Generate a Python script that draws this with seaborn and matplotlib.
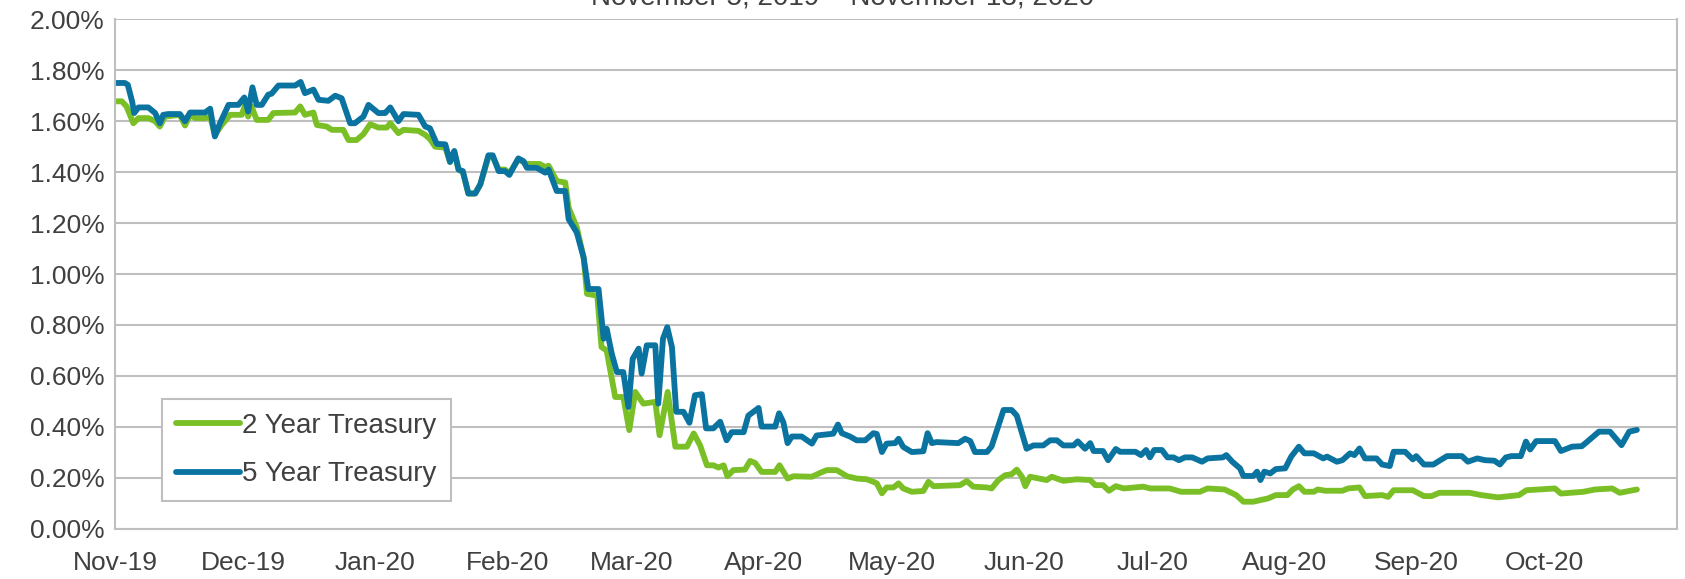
#!/usr/bin/env python3
"""2 year vs 5 year Treasury yields, Nov 2019 - Oct 2020."""
import matplotlib
matplotlib.use("Agg")
import matplotlib.pyplot as plt
import matplotlib.ticker as mticker
import numpy as np
import pandas as pd
import seaborn as sns

START = pd.Timestamp("2019-11-05")
TITLE = "November 5, 2019 \u2013 November 13, 2020"

# days after START
days_2y = [0, 1.6, 2.7, 4.3, 5.5, 7.8, 9.4, 10.5, 11.7, 15.2, 16.4, 17.6, 18.8, 21.1,
           22.3, 23.4, 25.0, 27.0, 29.7, 30.5, 31.2, 32.0, 33.2, 35.9, 37.1, 42.2,
           43.4, 44.5, 46.5, 47.3, 49.6, 50.8, 53.5, 54.7, 56.6, 58.2, 59.8, 61.7,
           63.7, 64.5, 66.4, 67.6, 71.1, 72.7, 73.8, 75.0, 77.4, 78.5, 79.5, 80.5,
           81.5, 82.8, 84.4, 85.6, 87.5, 88.5, 89.9, 91.4, 92.4, 94.5, 96.5, 99.5,
           100.8, 101.6, 103.5, 105.5, 106.3, 108.2, 109.8, 110.6, 113.0, 114.0,
           115.2, 117.2, 119.1, 120.5, 121.9, 123.8, 126.6, 127.6, 129.5, 131.3,
           134.0, 135.6, 137.1, 138.7, 140.2, 141.4, 142.6, 143.5, 144.9, 147.6,
           148.8, 150.0, 151.5, 154.7, 155.7, 157.6, 159.0, 163.3, 165.2, 166.8,
           169.1, 171.5, 173.8, 176.2, 177.7, 178.5, 179.7, 180.8, 182.4, 183.6,
           184.7, 186.7, 189.4, 190.6, 191.8, 198.0, 199.6, 201.1, 204.3, 205.4,
           207.0, 208.6, 210.1, 211.3, 212.5, 213.3, 214.4, 218.3, 219.5, 222.2,
           225.4, 228.5, 229.7, 231.5, 232.9, 234.5, 236.4, 240.9, 242.6, 247.1,
           249.8, 254.2, 256.0, 260.0, 262.7, 264.4, 266.7, 270.2, 272.0, 274.7,
           276.0, 277.4, 278.7, 280.9, 281.8, 283.6, 287.6, 288.9, 291.6, 292.9,
           296.9, 298.3, 299.6, 304.1, 306.7, 308.5, 310.3, 317.4, 320.1, 324.1,
           329.0, 330.7, 337.4, 338.8, 344.1, 346.8, 350.8, 352.6, 356.6]
yield_2y = [1.678, 1.678, 1.658, 1.592, 1.612, 1.612, 1.600, 1.579, 1.618, 1.625, 1.583,
            1.625, 1.612, 1.612, 1.618, 1.546, 1.585, 1.625, 1.625, 1.664, 1.618, 1.658,
            1.605, 1.605, 1.632, 1.634, 1.658, 1.625, 1.634, 1.585, 1.579, 1.566, 1.566,
            1.526, 1.526, 1.549, 1.588, 1.575, 1.575, 1.592, 1.553, 1.566, 1.562, 1.546,
            1.530, 1.500, 1.496, 1.440, 1.480, 1.410, 1.400, 1.316, 1.316, 1.352, 1.460,
            1.460, 1.410, 1.410, 1.395, 1.450, 1.432, 1.432, 1.420, 1.425, 1.365, 1.359,
            1.260, 1.183, 1.065, 0.922, 0.915, 0.713, 0.700, 0.517, 0.517, 0.387, 0.537,
            0.491, 0.498, 0.367, 0.537, 0.322, 0.322, 0.374, 0.327, 0.249, 0.249, 0.240,
            0.249, 0.206, 0.230, 0.232, 0.266, 0.258, 0.223, 0.223, 0.249, 0.197, 0.206,
            0.204, 0.219, 0.230, 0.230, 0.206, 0.197, 0.194, 0.184, 0.178, 0.139, 0.162,
            0.162, 0.178, 0.158, 0.145, 0.148, 0.184, 0.167, 0.171, 0.187, 0.165, 0.162,
            0.158, 0.191, 0.210, 0.214, 0.232, 0.204, 0.167, 0.204, 0.191, 0.204, 0.188,
            0.194, 0.191, 0.171, 0.171, 0.149, 0.167, 0.158, 0.165, 0.158, 0.158, 0.145,
            0.145, 0.158, 0.154, 0.132, 0.106, 0.106, 0.119, 0.132, 0.132, 0.154, 0.167,
            0.145, 0.145, 0.154, 0.149, 0.149, 0.158, 0.162, 0.128, 0.132, 0.125, 0.151,
            0.151, 0.128, 0.128, 0.141, 0.141, 0.132, 0.123, 0.132, 0.151, 0.158, 0.138,
            0.145, 0.154, 0.158, 0.141, 0.154]

days_5y = [0, 2.3, 3.0, 4.0, 4.5, 5.5, 7.8, 9.4, 10.5, 11.3, 12.5, 15.2, 16.4, 17.6,
           21.1, 22.3, 23.4, 24.6, 26.6, 28.9, 30.3, 31.2, 32.2, 33.2, 34.4, 35.9,
           36.7, 38.3, 42.2, 43.5, 44.5, 46.5, 47.7, 50.0, 51.6, 53.1, 55.1, 56.2,
           58.2, 59.4, 61.7, 63.3, 64.5, 66.4, 67.6, 71.1, 72.7, 73.8, 75.4, 77.4,
           78.5, 79.5, 80.5, 81.5, 82.8, 84.4, 85.6, 87.5, 88.5, 89.9, 91.4, 92.4,
           94.5, 95.7, 96.5, 98.8, 100.8, 101.6, 103.5, 105.5, 106.3, 108.2, 109.8,
           110.9, 113.3, 114.5, 115.2, 116.4, 117.6, 119.1, 120.3, 121.3, 122.7,
           123.4, 124.6, 126.6, 127.3, 128.4, 129.4, 130.5, 131.5, 133.2, 134.6,
           135.9, 137.5, 138.5, 140.2, 141.8, 143.3, 144.5, 147.3, 148.4, 150.8,
           151.5, 154.7, 155.6, 156.6, 157.6, 158.6, 160.9, 163.3, 164.4, 168.3,
           169.4, 170.3, 172.2, 173.8, 175.8, 177.7, 178.5, 179.7, 180.8, 182.8,
           183.6, 184.7, 186.7, 189.4, 190.4, 191.4, 192.5, 197.6, 199.2, 200.4,
           201.5, 204.3, 205.4, 208.2, 210.1, 211.3, 213.6, 215.2, 217.5, 219.1,
           220.7, 222.2, 224.6, 225.6, 227.3, 228.5, 229.3, 231.5, 232.7, 234.5,
           235.5, 239.1, 240.4, 241.6, 242.5, 243.5, 245.3, 246.6, 248.0, 249.3,
           250.7, 252.4, 254.7, 256.0, 259.6, 260.4, 261.8, 263.6, 264.4, 266.7,
           267.6, 268.4, 269.3, 270.7, 272.0, 274.2, 275.6, 277.4, 278.7, 280.9,
           283.1, 284.0, 286.3, 287.6, 289.4, 290.4, 291.6, 292.9, 295.6, 296.9,
           298.7, 299.6, 302.3, 304.1, 304.9, 306.7, 308.9, 311.2, 312.1, 315.6,
           317.0, 319.2, 321.0, 323.2, 324.5, 325.9, 327.2, 329.4, 330.6, 331.6,
           333.0, 337.4, 338.8, 341.4, 343.7, 345.0, 347.7, 350.3, 353.0, 354.8,
           356.6]
yield_5y = [1.750, 1.750, 1.743, 1.678, 1.632, 1.654, 1.654, 1.632, 1.592, 1.625, 1.628,
            1.628, 1.600, 1.634, 1.634, 1.649, 1.540, 1.592, 1.664, 1.664, 1.693, 1.638,
            1.733, 1.664, 1.664, 1.704, 1.708, 1.740, 1.740, 1.754, 1.710, 1.724, 1.684,
            1.680, 1.700, 1.690, 1.592, 1.592, 1.618, 1.664, 1.632, 1.632, 1.654, 1.600,
            1.628, 1.625, 1.579, 1.572, 1.511, 1.509, 1.440, 1.483, 1.410, 1.404, 1.316,
            1.316, 1.352, 1.466, 1.466, 1.404, 1.404, 1.389, 1.454, 1.443, 1.417, 1.417,
            1.398, 1.410, 1.326, 1.326, 1.215, 1.163, 1.065, 0.941, 0.941, 0.746, 0.785,
            0.687, 0.615, 0.615, 0.478, 0.667, 0.707, 0.609, 0.720, 0.720, 0.491, 0.746,
            0.791, 0.713, 0.459, 0.459, 0.416, 0.524, 0.528, 0.394, 0.394, 0.420, 0.347,
            0.379, 0.379, 0.444, 0.474, 0.401, 0.401, 0.453, 0.418, 0.336, 0.362, 0.362,
            0.334, 0.366, 0.373, 0.409, 0.375, 0.362, 0.347, 0.347, 0.375, 0.372, 0.301,
            0.334, 0.336, 0.353, 0.321, 0.301, 0.304, 0.375, 0.336, 0.340, 0.336, 0.353,
            0.344, 0.301, 0.301, 0.323, 0.466, 0.466, 0.444, 0.314, 0.327, 0.327, 0.347,
            0.347, 0.327, 0.327, 0.343, 0.314, 0.336, 0.305, 0.305, 0.269, 0.313, 0.302,
            0.302, 0.289, 0.309, 0.280, 0.309, 0.309, 0.280, 0.280, 0.269, 0.280, 0.280,
            0.263, 0.276, 0.280, 0.289, 0.263, 0.237, 0.207, 0.207, 0.224, 0.191, 0.224,
            0.217, 0.234, 0.237, 0.283, 0.322, 0.296, 0.296, 0.276, 0.283, 0.263, 0.269,
            0.296, 0.289, 0.315, 0.276, 0.276, 0.252, 0.246, 0.302, 0.302, 0.272, 0.285,
            0.252, 0.252, 0.276, 0.285, 0.285, 0.263, 0.276, 0.269, 0.267, 0.252, 0.280,
            0.285, 0.285, 0.342, 0.311, 0.344, 0.344, 0.305, 0.322, 0.324, 0.342, 0.381,
            0.381, 0.328, 0.381, 0.388]

series_names = ["2 Year Treasury", "5 Year Treasury"]
colors = {"2 Year Treasury": "#7ABF26", "5 Year Treasury": "#0A73A0"}

GREY = "#BFBFBF"
TEXT = "#404040"


def build_frame():
    frames = []
    for name, days, vals in [(series_names[0], days_2y, yield_2y),
                             (series_names[1], days_5y, yield_5y)]:
        frames.append(pd.DataFrame({
            "date": START + pd.to_timedelta(days, unit="D"),
            "yield": vals,
            "series": name,
        }))
    return pd.concat(frames, ignore_index=True)


def main():
    sns.set_style("white")
    plt.rcParams["font.family"] = ["Liberation Sans", "DejaVu Sans"]

    df = build_frame()
    fig = plt.figure(figsize=(16.85, 5.79), dpi=100)
    ax = fig.add_axes([115 / 1685, 1 - 528.7 / 579, 1562 / 1685, 509.4 / 579])

    sns.lineplot(data=df, x="date", y="yield", hue="series", hue_order=series_names,
                 palette=colors, estimator=None, sort=False, linewidth=4.2,
                 solid_joinstyle="round", solid_capstyle="round", ax=ax)

    ax.set_xlim(START, START + pd.Timedelta(days=366))
    ax.set_ylim(0, 2.0)
    ax.set_yticks(np.arange(0, 2.01, 0.2))
    ax.yaxis.set_major_formatter(mticker.FuncFormatter(lambda v, _: f"{v:.2f}%"))

    ticks = pd.date_range(START, periods=13, freq=pd.DateOffset(months=1))
    ax.set_xticks(ticks)
    ax.set_xticklabels([d.strftime("%b-%y") for d in ticks[:-1]] + [""])

    ax.grid(axis="y", color=GREY, linewidth=1.5)
    ax.set_axisbelow(True)
    ax.spines["top"].set_visible(False)
    for side in ["left", "bottom", "right"]:
        ax.spines[side].set_color(GREY)
        ax.spines[side].set_linewidth(1.5)

    ax.tick_params(axis="both", direction="out", length=6, width=1.5, color=GREY,
                   labelsize=19, labelcolor=TEXT)
    ax.tick_params(axis="x", pad=10)
    ax.tick_params(axis="y", pad=1.5)
    ax.set_xlabel("")
    ax.set_ylabel("")

    handles, labels = ax.get_legend_handles_labels()
    leg = ax.legend(handles, labels, loc="lower left", bbox_to_anchor=(0.030, 0.054),
                    borderaxespad=0, fontsize=20, frameon=True, fancybox=False,
                    framealpha=1, edgecolor=GREY, handlelength=2.3,
                    handletextpad=0.1, borderpad=0.5, labelspacing=0.8)
    leg.get_frame().set_linewidth(1.5)
    for t in leg.get_texts():
        t.set_color(TEXT)

    fig.text(843 / 1685, 1 - 4 / 579, TITLE, ha="center", va="baseline",
             fontsize=20, color=TEXT)

    fig.savefig("out.png", dpi=100)


if __name__ == "__main__":
    main()
